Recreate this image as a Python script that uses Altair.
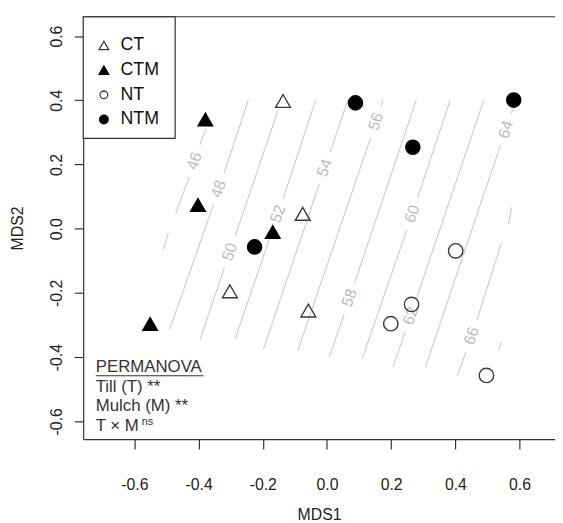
import altair as alt
import pandas as pd

FONT = "Liberation Sans"

# ---- sample scores (MDS1, MDS2) ----
pt_group = ["CT", "CT", "CT", "CT",
            "CTM", "CTM", "CTM", "CTM",
            "NT", "NT", "NT", "NT",
            "NTM", "NTM", "NTM", "NTM"]
pt_x = [-0.137, -0.0755, -0.3026, -0.058,
        -0.379, -0.402, -0.169, -0.551,
        0.401, 0.2635, 0.1988, 0.4968,
        0.0888, 0.5818, 0.2675, -0.2256]
pt_y = [0.398, 0.0462, -0.195, -0.255,
        0.340, 0.074, -0.0105, -0.297,
        -0.069, -0.236, -0.296, -0.457,
        0.392, 0.4006, 0.2536, -0.0567]

# ---- fitted surface contour pieces ----
seg_level = [46, 46, 46, 48, 48, 50, 50, 52, 52, 54, 54, 56, 56,
             58, 58, 60, 60, 62, 62, 64, 64, 66, 66, 66, 68]
seg_x1 = [-0.3778, -0.4290, -0.4946, -0.2450, -0.3541, -0.1519, -0.3193,
          -0.0354, -0.1692, 0.0650, -0.0234, 0.1747, 0.1365,
          0.2780, 0.0536, 0.3837, 0.2490, 0.4884, 0.2438,
          0.5794, 0.5405, 0.5757, 0.5430, 0.4336, 0.5430]
seg_y1 = [0.3122, 0.1612, -0.0145, 0.4006, 0.0740, 0.3707, -0.1214,
          0.4006, -0.0031, 0.4006, 0.1405, 0.4006, 0.2844,
          0.4006, -0.2650, 0.4006, -0.0031, 0.4006, -0.3217,
          0.3738, 0.2598, 0.0666, -0.0462, -0.3834, -0.3525]
seg_x2 = [-0.3957, -0.4715, -0.5100, -0.3208, -0.4900, -0.2860, -0.3951,
          -0.1359, -0.2866, 0.0099, -0.1978, 0.1686, -0.0909,
          0.0869, 0.0074, 0.2823, 0.1094, 0.2770, 0.2055,
          0.5741, 0.3066, 0.5655, 0.4669, 0.4062, 0.5347]
seg_y2 = [0.2612, 0.0471, -0.0669, 0.1726, -0.3134, -0.0228, -0.3442,
          0.0955, -0.3442, 0.2391, -0.3750, 0.3815, -0.3803,
          -0.1664, -0.4006, 0.0955, -0.4059, -0.2231, -0.4296,
          0.3584, -0.4314, 0.0154, -0.2847, -0.4573, -0.3803]

lab_level = ["46", "48", "50", "52", "54", "56", "58", "60", "62", "64", "66"]
lab_x = [-0.4123, -0.3374, -0.3026, -0.1525, -0.0068, 0.1525, 0.0703,
         0.2656, 0.2604, 0.5575, 0.4505]
lab_y = [0.2105, 0.1233, -0.0721, 0.0462, 0.1898, 0.3337, -0.2157,
         0.0462, -0.2724, 0.3091, -0.3341]

# ---- legend entries ----
groups = ["CT", "CTM", "NT", "NTM"]
leg_sym_x = [-0.695, -0.695, -0.695, -0.695]
leg_txt_x = [-0.6435, -0.6435, -0.6435, -0.6435]
leg_y = [0.5711, 0.4941, 0.4171, 0.3401]
leg_size = [95, 95, 60, 75]
leg_box_x = [-0.7596]
leg_box_x2 = [-0.473]
leg_box_y = [0.6604]
leg_box_y2 = [0.2813]

# ---- PERMANOVA annotation ----
ann_text = ["PERMANOVA", "Till (T) **", "Mulch (M) **", "T \u00d7 M"]
ann_x = [-0.7205, -0.7205, -0.7205, -0.7205]
ann_y = [-0.4305, -0.4937, -0.5538, -0.6139]
sup_text = ["ns"]
sup_x = [-0.5770]
sup_y = [-0.6015]
uline_x = [-0.7205]
uline_x2 = [-0.3850]
uline_y = [-0.4582]

ticks = [-0.6, -0.4, -0.2, 0.0, 0.2, 0.4, 0.6]

pts = pd.DataFrame({"group": pt_group, "x": pt_x, "y": pt_y})
segs = pd.DataFrame({"level": seg_level, "x": seg_x1, "y": seg_y1,
                     "x2": seg_x2, "y2": seg_y2})
labs = pd.DataFrame({"label": lab_level, "x": lab_x, "y": lab_y})
leg = pd.DataFrame({"group": groups, "x": leg_sym_x, "tx": leg_txt_x,
                    "y": leg_y, "sz": leg_size})
box = pd.DataFrame({"x": leg_box_x, "x2": leg_box_x2,
                    "y": leg_box_y, "y2": leg_box_y2})
ann = pd.DataFrame({"text": ann_text, "x": ann_x, "y": ann_y})
sup = pd.DataFrame({"text": sup_text, "x": sup_x, "y": sup_y})
ul = pd.DataFrame({"x": uline_x, "x2": uline_x2, "y": uline_y})

W, H = 477, 427
xs = alt.Scale(domain=[-0.7596, 0.7104], nice=False, zero=False)
ys = alt.Scale(domain=[-0.6555, 0.6604], nice=False, zero=False)

lab_expr = "datum.value < 0 ? '-' + format(-datum.value, '.1f') : format(datum.value, '.1f')"
xaxis = alt.Axis(values=ticks, title="MDS1", labelExpr=lab_expr, grid=False,
                 tickSize=10, tickColor="#333", domainColor="#333", domainWidth=1.2,
                 tickWidth=1.2, labelPadding=28, labelFontSize=16, labelColor="#222",
                 labelFont=FONT, titleFont=FONT, titleFontSize=16,
                 titleFontWeight="normal", titleColor="#222", titleY=76,
                 titleBaseline="middle", labelFlush=False, labelOverlap=False)
yaxis = alt.Axis(values=ticks, title="MDS2", labelExpr=lab_expr, grid=False,
                 tickSize=9, tickColor="#333", domainColor="#333", domainWidth=1.2,
                 tickWidth=1.2, labelPadding=18, labelFontSize=16, labelColor="#222",
                 labelAngle=270, labelAlign="center", labelBaseline="middle",
                 labelFont=FONT, titleFont=FONT, titleFontSize=16,
                 titleFontWeight="normal", titleColor="#222", titleAngle=270,
                 titleX=-66, titleY=H / 2, titleAlign="center",
                 titleBaseline="middle", labelFlush=False, labelOverlap=False)

X = lambda f: alt.X(f, scale=xs, axis=xaxis)
Y = lambda f: alt.Y(f, scale=ys, axis=yaxis)

shape_enc = alt.Shape("group:N", scale=alt.Scale(
    domain=groups, range=["triangle-up", "triangle-up", "circle", "circle"]), legend=None)
fill_enc = alt.Fill("group:N", scale=alt.Scale(
    domain=groups, range=["transparent", "black", "transparent", "black"]), legend=None)
stroke_enc = alt.Stroke("group:N", scale=alt.Scale(
    domain=groups, range=["#3a3a3a", "black", "#3a3a3a", "black"]), legend=None)

contours = alt.Chart(segs).mark_rule(color="#c4c4c4", strokeWidth=1).encode(
    x=X("x:Q"), y=Y("y:Q"), x2="x2:Q", y2="y2:Q")

clabels = alt.Chart(labs).mark_text(angle=289, color="#bcbcbc", fontSize=16,
                                    font=FONT, align="center",
                                    baseline="middle").encode(
    x=X("x:Q"), y=Y("y:Q"), text="label:N")

points = alt.Chart(pts).mark_point(strokeWidth=1.4, opacity=1).encode(
    x=X("x:Q"), y=Y("y:Q"),
    shape=shape_enc, fill=fill_enc, stroke=stroke_enc,
    size=alt.Size("group:N", scale=alt.Scale(
        domain=groups, range=[225, 205, 88, 95]), legend=None),
)

legbox = alt.Chart(box).mark_rect(fill="white", stroke="#333", strokeWidth=1.2).encode(
    x=X("x:Q"), x2="x2:Q", y=Y("y:Q"), y2="y2:Q")
legsym = alt.Chart(leg).mark_point(strokeWidth=1.3, opacity=1).encode(
    x=X("x:Q"), y=Y("y:Q"), shape=shape_enc, fill=fill_enc, stroke=stroke_enc,
    size=alt.Size("sz:Q", scale=None))
legtxt = alt.Chart(leg).mark_text(align="left", baseline="middle", fontSize=18,
                                  font=FONT, color="#111").encode(
    x=X("tx:Q"), y=Y("y:Q"), text="group:N")

top_rule = alt.Chart().mark_rule(color="#333", strokeWidth=1.2).encode(
    x=alt.value(0), x2=alt.value(W), y=alt.value(0))

ann_txt = alt.Chart(ann).mark_text(align="left", baseline="middle", fontSize=17,
                                   font=FONT, color="#333").encode(
    x=X("x:Q"), y=Y("y:Q"), text="text:N")
sup_txt = alt.Chart(sup).mark_text(align="left", baseline="middle", fontSize=11,
                                   font=FONT, color="#333").encode(
    x=X("x:Q"), y=Y("y:Q"), text="text:N")
uline = alt.Chart(ul).mark_rule(color="#333", strokeWidth=1.1).encode(
    x=X("x:Q"), x2="x2:Q", y=Y("y:Q"))

chart = alt.layer(contours, clabels, points, legbox, legsym, legtxt, top_rule,
                  ann_txt, sup_txt, uline).properties(
    width=W, height=H,
    autosize=alt.AutoSizeParams(type="none"),
    padding={"left": 76, "top": 6, "right": 0, "bottom": 82},
).configure(font=FONT, view=alt.ViewConfig(stroke=None))

chart.save("out.html", embed_options={"renderer": "svg", "actions": False})
